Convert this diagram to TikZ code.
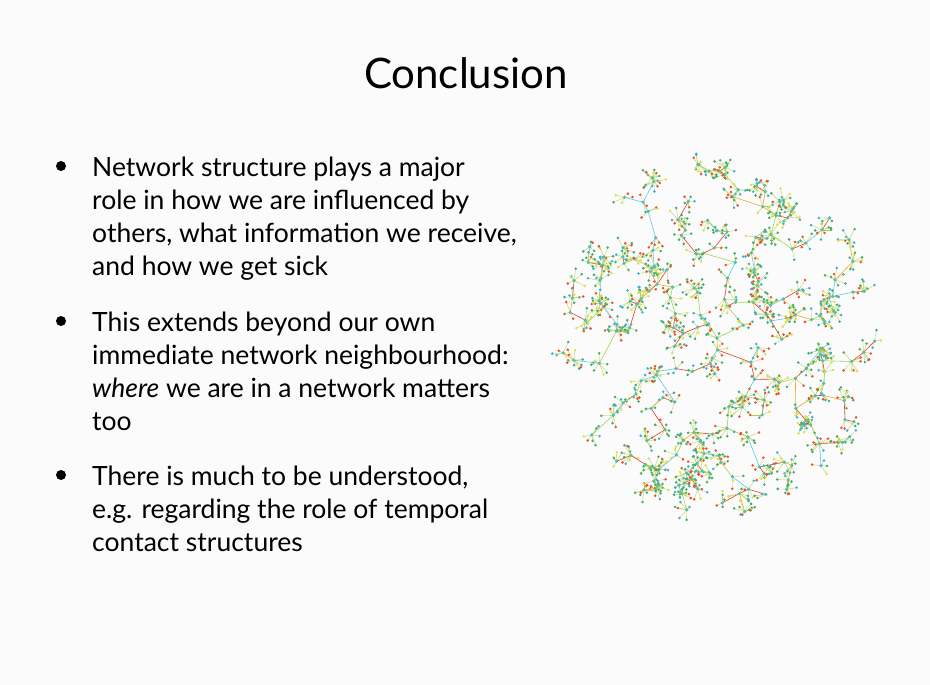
\documentclass[tikz,border=0pt]{standalone}
\usepackage{fontspec}
\setmainfont{Lato}
\usetikzlibrary{calc}
\definecolor{bg}{HTML}{FBFBFB}
\definecolor{eA}{HTML}{E83A2A}
\definecolor{eB}{HTML}{F5A623}
\definecolor{eC}{HTML}{9FD64A}
\definecolor{eD}{HTML}{5BC8E8}
\definecolor{nA}{HTML}{3FAE6A}
\definecolor{nB}{HTML}{D9E24A}
\definecolor{nC}{HTML}{3AB0D8}
\definecolor{nD}{HTML}{E8502E}
\begin{document}
\begin{tikzpicture}[x=1pt,y=-1pt,
  bullettext/.style={anchor=base west,font=\fontsize{26.5}{26.5}\selectfont,inner sep=0},
  bul/.style={circle,fill=black,inner sep=0,minimum size=10pt},
  title/.style={font=\fontsize{42}{42}\selectfont,inner sep=0}]
\fill[bg] (0,0) rectangle (930,685);
\useasboundingbox (0,0) rectangle (930,685);
\node[title] (t) at (466,73) {Conclusion};
\node[bul] (b1) at (61,166) {};
\node[bul] (b2) at (61,321) {};
\node[bul] (b3) at (61,475) {};
\node[bullettext] (l1) at (92,176) {Network structure plays a major};
\node[bullettext] (l2) at (92,209) {role in how we are influenced by};
\node[bullettext] (l3) at (92,242) {others, what information we receive,};
\node[bullettext] (l4) at (92,275) {and how we get sick};
\node[bullettext] (l5) at (92,331) {This extends beyond our own};
\node[bullettext] (l6) at (92,364) {immediate network neighbourhood:};
\node[bullettext] (l7) at (92,397) {\textit{where} we are in a network matters};
\node[bullettext] (l8) at (92,430) {too};
\node[bullettext] (l9) at (92,485) {There is much to be understood,};
\node[bullettext] (l10) at (92,518) {e.g. regarding the role of temporal};
\node[bullettext] (l11) at (92,551) {contact structures};
% network
\pgfmathsetseed{5}
\foreach \i in {1,...,220}{
  \pgfmathsetmacro{\rr}{0.93*sqrt((\i-1)/219)}
  \pgfmathsetmacro{\aa}{random(0,359)}
  \pgfmathsetmacro{\xx}{717+172*\rr*cos(\aa)}
  \pgfmathsetmacro{\yy}{338+190*\rr*sin(\aa)}
  \expandafter\xdef\csname hx\i\endcsname{\xx}
  \expandafter\xdef\csname hy\i\endcsname{\yy}
  \coordinate (h\i) at (\xx,\yy);
}
\foreach \i in {2,...,220}{
  \xdef\best{1}\xdef\bd{10000}
  \pgfmathtruncatemacro{\lo}{max(1,\i-70)}
  \pgfmathtruncatemacro{\hi}{\i-1}
  \foreach \j in {\lo,...,\hi}{
    \pgfmathsetmacro{\d}{veclen(\csname hx\i\endcsname-\csname hx\j\endcsname,\csname hy\i\endcsname-\csname hy\j\endcsname)}
    \pgfmathparse{\d<\bd?1:0}
    \ifnum\pgfmathresult=1 \xdef\bd{\d}\xdef\best{\j}\fi
  }
  \pgfmathtruncatemacro{\c}{random(0,4)}
  \ifcase\c \def\ec{eA}\or\def\ec{eB}\or\def\ec{eC}\or\def\ec{eD}\else\def\ec{eA}\fi
  \draw[\ec,line width=0.6pt] (h\best) -- (h\i);
}
\foreach \i in {1,...,220}{
  \pgfmathtruncatemacro{\nl}{random(3,10)}
  \foreach \k in {1,...,\nl}{
    \pgfmathsetmacro{\a}{random(0,359)}
    \pgfmathsetmacro{\r}{random(4,12)}
    \pgfmathtruncatemacro{\c}{random(0,4)}
    \ifcase\c \def\nc{nA}\or\def\nc{nB}\or\def\nc{nC}\or\def\nc{nD}\else\def\nc{nA}\fi
    \draw[eC!70!eB,line width=0.3pt] (h\i) -- ($(h\i)+(\a:\r pt)$)
      node[circle,fill=\nc,inner sep=0,minimum size=2.8pt]{};
  }
  \fill[eD!60!nA] (h\i) circle (1.8pt);
}
\end{tikzpicture}
\end{document}
